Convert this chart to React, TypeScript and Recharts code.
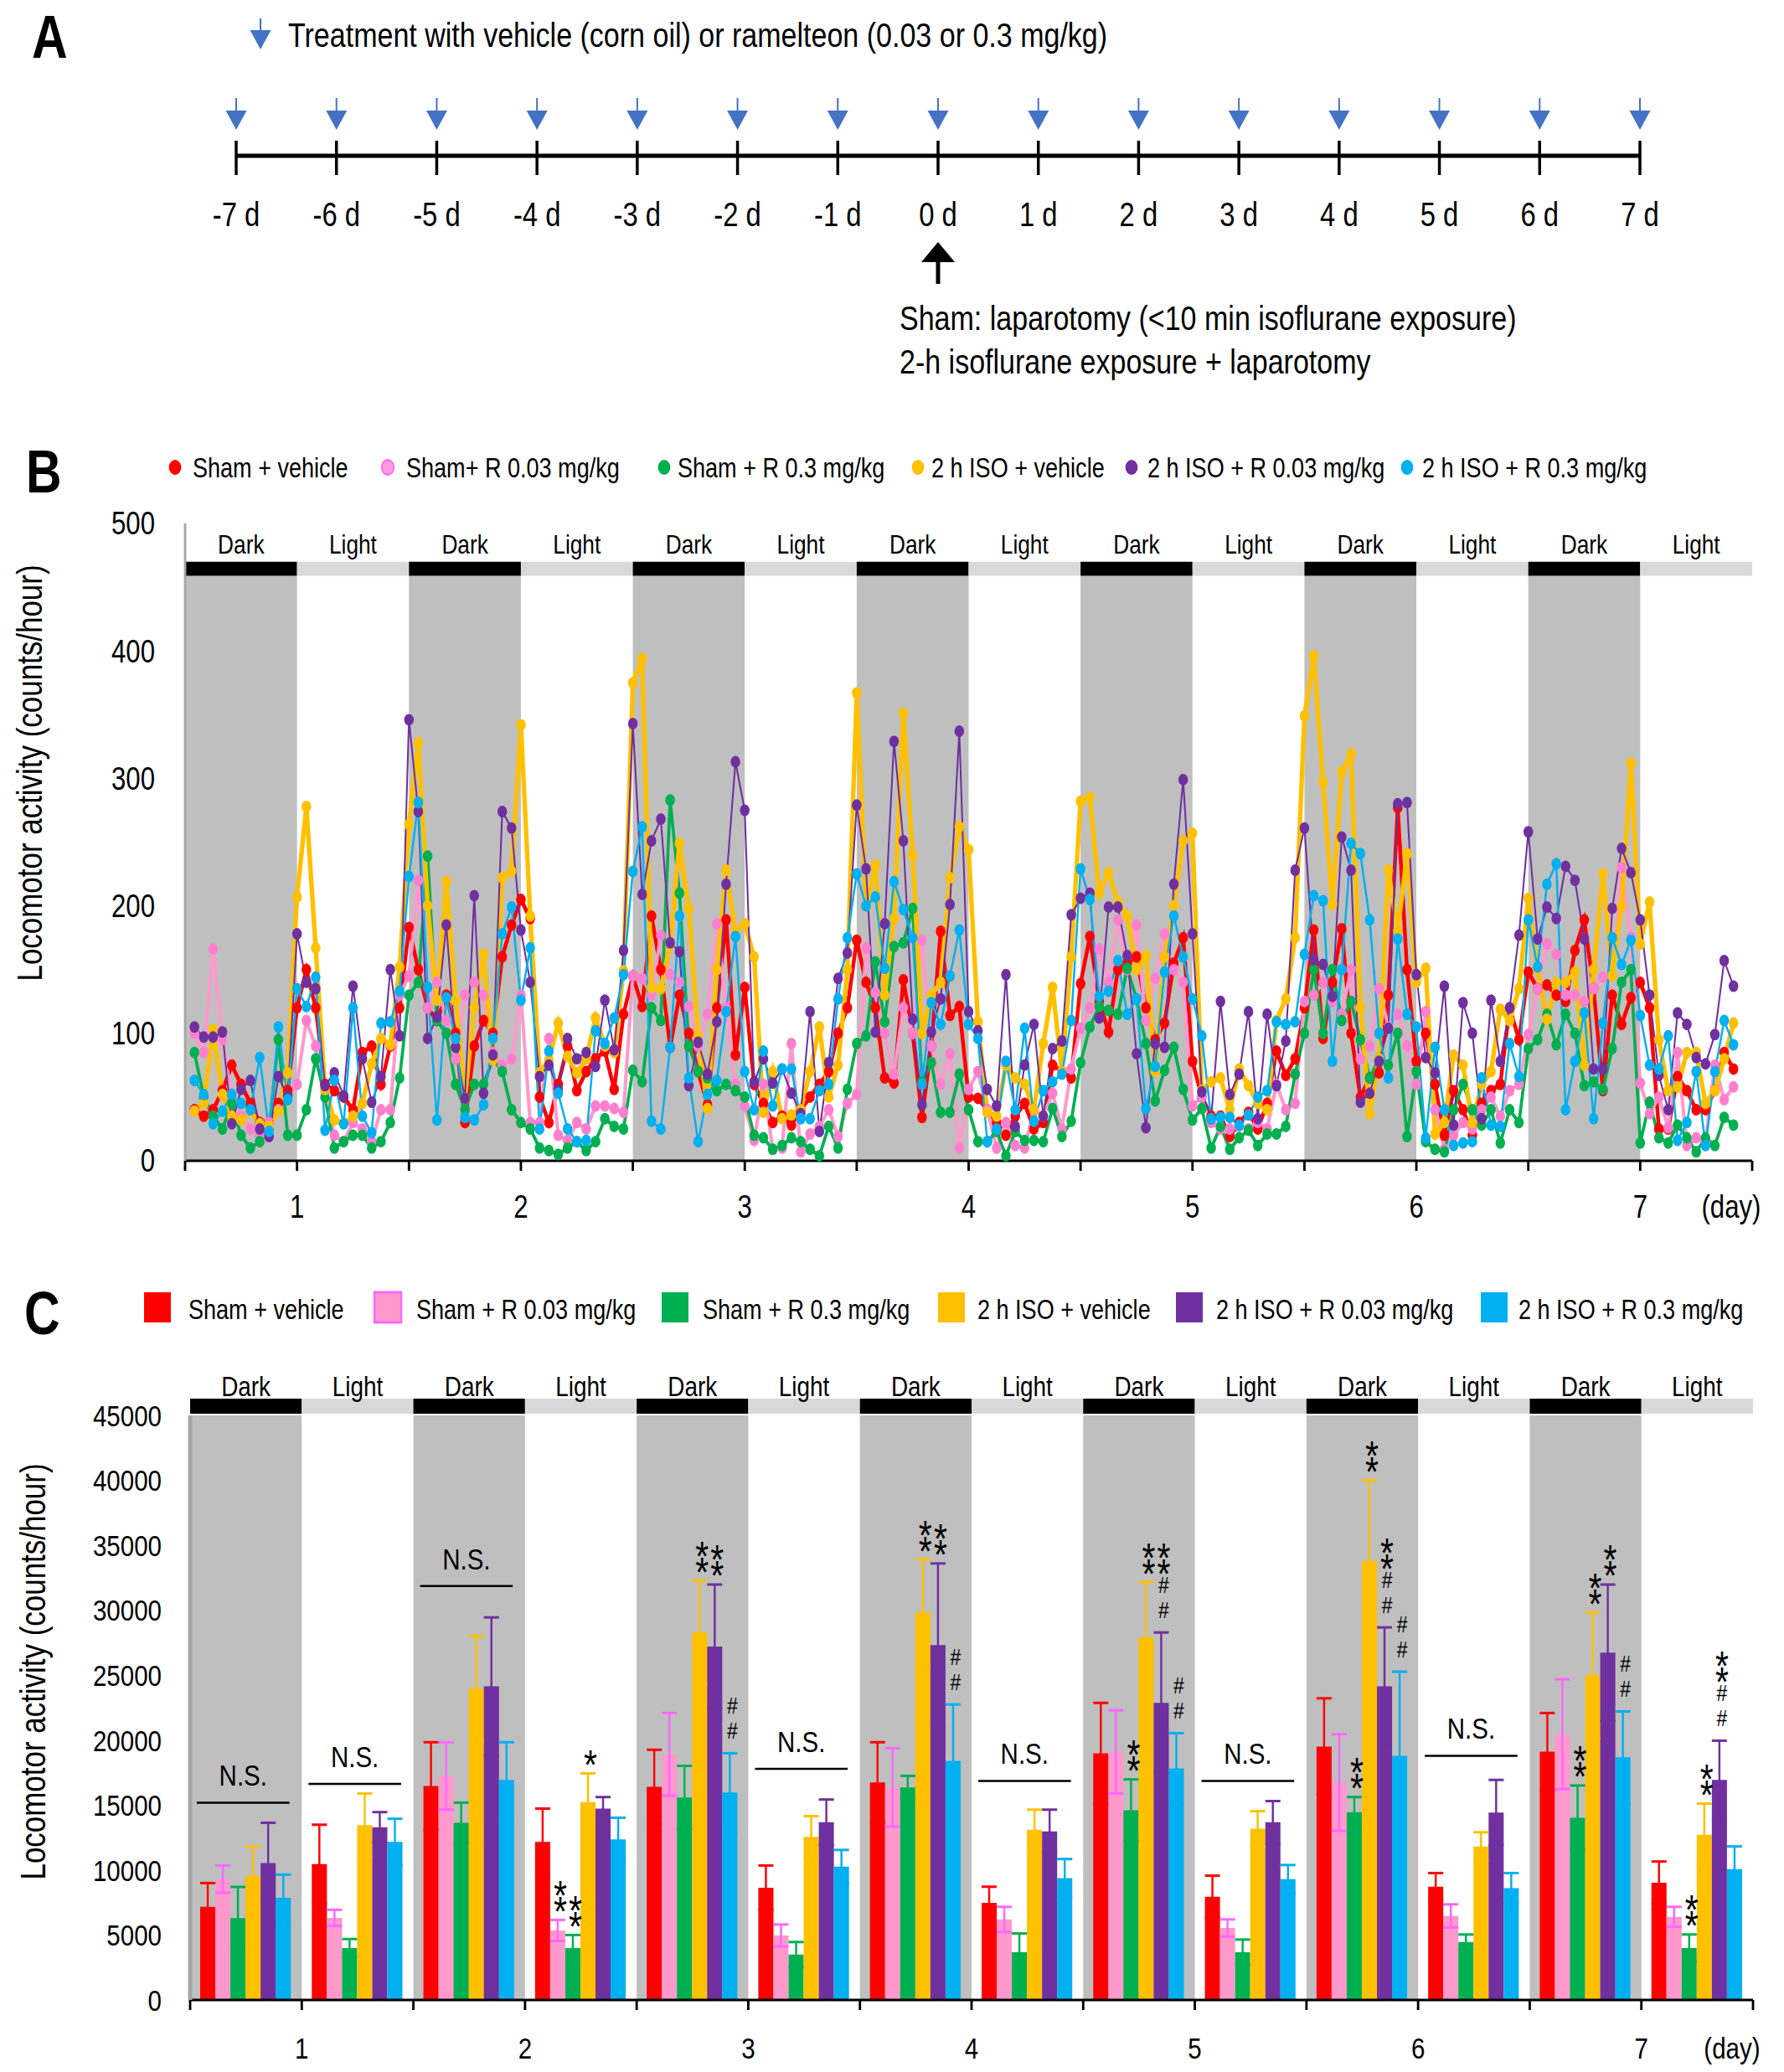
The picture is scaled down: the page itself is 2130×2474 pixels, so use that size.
import React from "react";
import {
  ComposedChart,
  Line,
  Bar,
  Scatter,
  XAxis,
  YAxis,
  ReferenceArea,
  ReferenceLine,
  ErrorBar,
  LabelList,
} from "recharts";

// the original figure is squeezed horizontally, so everything is laid out wide and scaled
const S = 0.82;
const PAGE_W = 2130;
const PAGE_H = 2474;
const IW = PAGE_W / S;
const sx = (v: number) => v / S;
const FONT = '"Liberation Sans", Arial, sans-serif';

// ---------- panel A ----------
const timelineDays = [-7, -6, -5, -4, -3, -2, -1, 0, 1, 2, 3, 4, 5, 6, 7];
const treatmentDays = [-7, -6, -5, -4, -3, -2, -1, 0, 1, 2, 3, 4, 5, 6, 7];
const surgeryDay = 0;
const treatmentNote = "Treatment with vehicle (corn oil) or ramelteon (0.03 or 0.3 mg/kg)";
const surgeryNotes = [
  "Sham: laparotomy (<10 min isoflurane exposure)",
  "2-h isoflurane exposure + laparotomy",
];

// ---------- panel B (hourly counts, hours 1..166) ----------
const periodNames = [
  "Dark", "Light", "Dark", "Light", "Dark", "Light", "Dark",
  "Light", "Dark", "Light", "Dark", "Light", "Dark", "Light",
];
const hoursPerPeriod = 12;
const bTicks = [0, 12, 24, 36, 48, 60, 72, 84, 96, 108, 120, 132, 144, 156, 168];
const bYTicks = [0, 100, 200, 300, 400, 500];

const shamVehicleHourly = [
  40, 35, 40, 55, 75, 60, 45, 30, 30, 45, 55, 120,
  150, 120, 60, 55, 50, 40, 85, 90, 60, 90, 120, 183,
  150, 120, 110, 130, 100, 30, 90, 110, 100, 160, 185, 205,
  190, 50, 30, 60, 90, 55, 70, 80, 86, 56, 115, 145,
  121, 192, 150, 89, 130, 100, 70, 44, 120, 189, 83, 136,
  60, 45, 30, 35, 28, 40, 50, 60, 70, 100, 120, 173,
  140, 120, 65, 61, 142, 100, 34, 90, 180, 114, 121, 50,
  49, 40, 30, 20, 35, 45, 25, 30, 75, 70, 65, 139,
  176, 125, 101, 150, 155, 160, 120, 95, 108, 155, 175, 78,
  50, 35, 35, 19, 30, 38, 25, 45, 86, 67, 80, 120,
  181, 96, 140, 182, 100, 50, 65, 69, 130, 277, 150, 78,
  100, 60, 20, 55, 40, 20, 45, 55, 60, 120, 95, 148,
  135, 138, 130, 125, 165, 189, 135, 55, 130, 107, 128, 140,
  120, 25, 25, 66, 55, 40, 40, 55, 85, 72,
];
const shamR003Hourly = [
  100, 85, 166, 95, 50, 35, 25, 20, 30, 40, 50, 60,
  110, 90, 55, 20, 15, 30, 25, 15, 40, 40, 130, 145,
  220, 120, 140, 110, 80, 130, 140, 130, 85, 75, 80, 130,
  30, 30, 96, 20, 16, 30, 25, 43, 43, 41, 38, 145,
  143, 130, 177, 146, 140, 121, 90, 115, 186, 120, 60, 43,
  16, 60, 9, 10, 92, 7, 21, 27, 40, 19, 45, 52,
  167, 132, 100, 68, 120, 100, 173, 90, 60, 84, 10, 56,
  70, 40, 10, 30, 12, 10, 40, 35, 53, 25, 72, 104,
  120, 166, 140, 189, 150, 185, 110, 143, 178, 150, 140, 43,
  50, 30, 25, 25, 27, 25, 30, 25, 60, 40, 45, 125,
  130, 140, 125, 115, 150, 80, 90, 135, 105, 115, 90, 60,
  117, 40, 9, 20, 30, 25, 40, 50, 35, 55, 60, 99,
  135, 170, 162, 130, 130, 125, 135, 144, 145, 230, 175, 61,
  37, 50, 26, 85, 12, 18, 15, 75, 48, 58,
];
const shamR03Hourly = [
  85, 50, 35, 25, 45, 20, 10, 15, 25, 95, 20, 20,
  40, 80, 50, 10, 15, 20, 20, 10, 15, 30, 65, 130,
  140, 239, 110, 100, 60, 40, 60, 60, 80, 70, 40, 30,
  25, 10, 8, 5, 10, 15, 8, 15, 33, 27, 25, 71,
  62, 120, 110, 283, 210, 90, 70, 65, 55, 60, 55, 50,
  20, 18, 9, 12, 18, 15, 9, 4, 27, 10, 56, 92,
  98, 156, 109, 168, 171, 198, 62, 77, 38, 38, 68, 40,
  15, 15, 23, 4, 23, 16, 16, 15, 41, 19, 31, 77,
  105, 121, 118, 115, 151, 127, 92, 47, 71, 89, 56, 32,
  41, 10, 27, 9, 18, 24, 12, 21, 21, 27, 68, 100,
  150, 100, 150, 110, 125, 95, 65, 80, 75, 100, 19, 70,
  15, 9, 7, 40, 60, 40, 28, 40, 14, 40, 30, 88,
  95, 115, 91, 115, 100, 59, 62, 56, 88, 140, 150, 14,
  46, 18, 14, 28, 18, 7, 18, 12, 34, 28,
];
const isoVehicleHourly = [
  39, 45, 103, 52, 35, 32, 39, 29, 27, 39, 69, 207,
  278, 167, 56, 32, 29, 35, 45, 76, 96, 91, 152, 264,
  328, 200, 126, 219, 126, 49, 120, 162, 79, 222, 227, 342,
  192, 69, 79, 108, 82, 69, 80, 112, 90, 85, 149, 375,
  394, 136, 135, 170, 249, 198, 98, 41, 150, 228, 180, 186,
  160, 38, 70, 33, 36, 40, 70, 105, 50, 75, 150, 367,
  200, 232, 130, 190, 351, 240, 100, 130, 140, 222, 262, 244,
  109, 38, 35, 75, 65, 60, 40, 92, 136, 70, 160, 282,
  285, 210, 226, 203, 192, 150, 161, 70, 160, 200, 251, 257,
  55, 62, 65, 40, 72, 59, 45, 40, 110, 127, 175, 349,
  396, 297, 201, 305, 319, 120, 37, 80, 228, 180, 241, 140,
  151, 21, 30, 83, 75, 30, 60, 70, 119, 110, 135, 206,
  150, 111, 140, 140, 148, 75, 150, 225, 145, 200, 312, 170,
  203, 95, 55, 58, 85, 85, 45, 55, 80, 108,
];
const isoR003Hourly = [
  105, 97, 97, 101, 29, 56, 63, 25, 19, 66, 51, 178,
  140, 135, 59, 69, 51, 137, 80, 46, 66, 150, 98, 346,
  274, 96, 113, 185, 89, 49, 208, 53, 83, 274, 261, 181,
  140, 66, 75, 56, 96, 80, 85, 74, 126, 87, 165, 343,
  209, 251, 268, 171, 164, 59, 93, 68, 109, 217, 313, 275,
  62, 80, 61, 72, 53, 37, 117, 23, 77, 143, 163, 279,
  229, 101, 186, 329, 251, 111, 44, 101, 127, 201, 337, 117,
  102, 56, 43, 146, 27, 75, 107, 35, 88, 94, 193, 206,
  210, 112, 199, 199, 161, 84, 26, 92, 89, 217, 299, 178,
  54, 33, 125, 52, 68, 117, 33, 115, 59, 94, 228, 261,
  158, 154, 129, 254, 228, 46, 53, 78, 104, 280, 281, 146,
  81, 69, 137, 28, 124, 100, 33, 126, 78, 120, 177, 258,
  174, 199, 190, 231, 220, 174, 72, 72, 198, 245, 226, 189,
  130, 67, 40, 116, 107, 81, 76, 99, 157, 137,
];
const isoR03Hourly = [
  63, 52, 29, 39, 52, 45, 40, 81, 23, 105, 48, 135,
  121, 144, 24, 63, 29, 120, 35, 22, 108, 109, 133, 223,
  281, 136, 32, 128, 96, 34, 32, 44, 96, 178, 199, 126,
  167, 25, 86, 53, 25, 15, 16, 102, 92, 112, 146, 227,
  262, 31, 25, 89, 192, 65, 15, 52, 63, 117, 176, 70,
  40, 86, 43, 72, 72, 33, 33, 55, 60, 127, 175, 225,
  200, 207, 151, 219, 197, 175, 60, 124, 107, 145, 181, 107,
  96, 15, 25, 78, 40, 104, 31, 55, 62, 68, 110, 229,
  205, 129, 133, 157, 115, 127, 41, 74, 148, 192, 160, 127,
  98, 33, 34, 34, 28, 36, 50, 55, 109, 107, 109, 162,
  208, 204, 78, 150, 249, 241, 189, 100, 65, 174, 115, 105,
  18, 89, 40, 12, 14, 15, 65, 28, 27, 92, 66, 189,
  152, 217, 233, 40, 78, 116, 33, 108, 175, 154, 173, 114,
  75, 72, 98, 16, 30, 70, 12, 70, 110, 91,
];

// ---------- panel C (counts per 12-h period, mean and SEM) ----------
const cYTicks = [0, 5000, 10000, 15000, 20000, 25000, 30000, 35000, 40000, 45000];
const cXTicks = [0, 1, 2, 3, 4, 5, 6, 7, 8, 9, 10, 11, 12, 13, 14];

const shamVehicleMean = [7170, 10460, 16470, 12170, 16400, 8640, 16740, 7480, 18990, 7950, 19500, 8720, 19110, 9030];
const shamVehicleErr = [1830, 3030, 3370, 2560, 2860, 1710, 3100, 1240, 3880, 1620, 3720, 1050, 2980, 1630];
const shamR003Mean = [9300, 6320, 17250, 5350, 18910, 4960, 16360, 6200, 19100, 5540, 16740, 6470, 20460, 6400];
const shamR003Err = [1050, 620, 2590, 810, 3180, 850, 3020, 970, 3200, 660, 3720, 890, 4230, 770];
const shamR03Mean = [6300, 3990, 13640, 3990, 15580, 3490, 16360, 3680, 14610, 3680, 14460, 4460, 14030, 3990];
const shamR03Err = [2400, 700, 1550, 1010, 2440, 970, 890, 1440, 2370, 970, 1160, 580, 2480, 1050];
const isoVehicleMean = [9570, 13450, 23990, 15230, 28290, 12560, 29840, 13100, 27910, 13180, 33800, 11820, 25000, 12710];
const isoVehicleErr = [2230, 2440, 4030, 2210, 4000, 1590, 4070, 1550, 4260, 1350, 6200, 1090, 4840, 2410];
const isoR003Mean = [10540, 13290, 24150, 14730, 27210, 13680, 27320, 12980, 22870, 13680, 24150, 14420, 26740, 16940];
const isoR003Err = [3100, 1170, 5300, 890, 4770, 1750, 6280, 1670, 5420, 1630, 4530, 2520, 5240, 3020];
const isoR03Mean = [7870, 12170, 16940, 12360, 15970, 10270, 18410, 9380, 17830, 9300, 18800, 8600, 18680, 10080];
const isoR03Err = [1780, 1780, 2900, 1670, 3020, 1280, 4340, 1470, 2710, 1090, 6470, 1170, 3530, 1740];

// significance marks, read top to bottom
const shamVehicleMarks = ["", "", "", "", "", "", "", "", "", "", "", "", "", ""];
const shamR003Marks = ["", "", "", "**", "", "", "", "", "", "", "", "", "", ""];
const shamR03Marks = ["", "", "", "**", "", "", "", "", "**", "", "**", "", "**", "**"];
const isoVehicleMarks = ["", "", "", "*", "**", "", "**", "", "**", "", "**", "", "**", "**"];
const isoR003Marks = ["", "", "", "", "**", "", "**", "", "**##", "", "**##", "", "**", "**##"];
const isoR03Marks = ["", "", "", "", "##", "", "##", "", "##", "", "##", "", "##", ""];

const nsGroups = [0, 1, 2, 5, 7, 9, 11];
const nsLevels = [15190, 16630, 31860, 17790, 16860, 16860, 18800];

// ---------- series styling ----------
const SERIES = [
  { key: "red", color: "#FF0000", dot: "#FF0000", err: "#FF0000", width: 5.5 },
  { key: "pink", color: "#FF99CC", dot: "#FF7FCF", err: "#FF66FF", width: 5 },
  { key: "green", color: "#00B050", dot: "#00B050", err: "#00B050", width: 4.5 },
  { key: "yellow", color: "#FFC000", dot: "#FFC000", err: "#FFC000", width: 6.5 },
  { key: "purple", color: "#7030A0", dot: "#7030A0", err: "#7030A0", width: 2.5 },
  { key: "cyan", color: "#00B0F0", dot: "#00B0F0", err: "#00B0F0", width: 3 },
];
const legendNamesB = ["Sham + vehicle", "Sham+ R 0.03 mg/kg", "Sham + R 0.3 mg/kg", "2 h ISO + vehicle", "2 h ISO + R 0.03 mg/kg", "2 h ISO + R 0.3 mg/kg"];
const legendNamesC = ["Sham + vehicle", "Sham + R 0.03 mg/kg", "Sham + R 0.3 mg/kg", "2 h ISO + vehicle", "2 h ISO + R 0.03 mg/kg", "2 h ISO + R 0.3 mg/kg"];
const legendBDotX = [209, 463, 793, 1096, 1351, 1680];
const legendBTextX = [230, 485, 809, 1112, 1370, 1698];
const legendCBoxX = [172, 447, 790, 1120, 1404, 1768];
const legendCTextX = [225, 497, 839, 1167, 1452, 1813];

const hourly: Record<string, number[]> = {
  red: shamVehicleHourly, pink: shamR003Hourly, green: shamR03Hourly,
  yellow: isoVehicleHourly, purple: isoR003Hourly, cyan: isoR03Hourly,
};
const means: Record<string, number[]> = {
  red: shamVehicleMean, pink: shamR003Mean, green: shamR03Mean,
  yellow: isoVehicleMean, purple: isoR003Mean, cyan: isoR03Mean,
};
const errs: Record<string, number[]> = {
  red: shamVehicleErr, pink: shamR003Err, green: shamR03Err,
  yellow: isoVehicleErr, purple: isoR003Err, cyan: isoR03Err,
};
const marks: Record<string, string[]> = {
  red: shamVehicleMarks, pink: shamR003Marks, green: shamR03Marks,
  yellow: isoVehicleMarks, purple: isoR003Marks, cyan: isoR03Marks,
};

const treatmentRows = treatmentDays.map((day) => ({ day, level: 1 }));

const bRows = shamVehicleHourly.map((_, i) => {
  const row: any = { h: i + 1 };
  SERIES.forEach((s) => (row[s.key] = hourly[s.key][i]));
  return row;
});

const cRows = periodNames.map((name, i) => {
  const row: any = { period: i, name };
  SERIES.forEach((s) => {
    row[s.key] = means[s.key][i];
    row[s.key + "Err"] = errs[s.key][i];
  });
  return row;
});

// ---------- small drawing helpers ----------
function TreatmentArrow(props: any) {
  const { cx, cy } = props;
  if (cx == null || cy == null) return null;
  const hw = sx(12.5);
  return (
    <g>
      <line x1={cx} x2={cx} y1={cy} y2={cy + 17} stroke="#4472C4" strokeWidth={sx(2)} />
      <polygon points={`${cx - hw},${cy + 15} ${cx + hw},${cy + 15} ${cx},${cy + 38}`} fill="#4472C4" />
    </g>
  );
}

function TimelineTick(props: any) {
  const { x, y, payload } = props;
  const d = payload.value;
  return (
    <g>
      <line x1={x} x2={x} y1={y - 18} y2={y + 23} stroke="#000" strokeWidth={sx(3.5)} />
      <text x={x} y={y + 84} textAnchor="middle" fontSize={40} fill="#000" fontFamily={FONT}>
        {`${d} d`}
      </text>
      {d === surgeryDay && (
        <g>
          <polygon points={`${x - sx(20)},${y + 127} ${x + sx(20)},${y + 127} ${x},${y + 103}`} fill="#000" />
          <line x1={x} x2={x} y1={y + 124} y2={y + 153} stroke="#000" strokeWidth={sx(5)} />
          {surgeryNotes.map((t, i) => (
            <text key={i} x={x - sx(46)} y={y + 208 + i * 52} fontSize={41.5} fill="#000" fontFamily={FONT}>
              {t}
            </text>
          ))}
        </g>
      )}
    </g>
  );
}

function DayTick(props: any) {
  const { x, y, payload, lastTick, perDay, offset, fontSize } = props;
  const v = payload.value;
  let label = "";
  if (v === lastTick) label = "(day)";
  else if ((v - offset) % perDay === 0) label = String((v - offset) / perDay + 1);
  if (!label) return null;
  const dx = v === lastTick ? -sx(25) : 0;
  return (
    <text x={x + dx} y={y} dy="0.71em" textAnchor="middle" fontSize={fontSize} fill="#000" fontFamily={FONT}>
      {label}
    </text>
  );
}

function makeMarks(key: string) {
  return (p: any) => {
    const vb = p.viewBox || p;
    const i = Number(p.value);
    const m = marks[key][i];
    if (!m || vb == null || !vb.height) return null;
    const perUnit = vb.height / means[key][i];
    let cur = vb.y - errs[key][i] * perUnit - 12;
    const cx = vb.x + vb.width / 2 + sx(3);
    const items: any[] = [];
    m.split("").reverse().forEach((c, k) => {
      const step = c === "#" ? 30 : 19;
      const center = cur - step / 2;
      cur -= step;
      items.push(
        c === "#" ? (
          <text key={k} x={cx} y={center + 10} fontSize={28} textAnchor="middle" fill="#000" fontFamily={FONT}>#</text>
        ) : (
          <text key={k} x={cx} y={center + 29} fontSize={50} textAnchor="middle" fill="#000" fontFamily={FONT}>*</text>
        )
      );
    });
    return <g>{items}</g>;
  };
}

// ---------- panels ----------
function PanelA() {
  return (
    <ComposedChart
      width={IW}
      height={480}
      data={treatmentRows}
      margin={{ top: 117, right: IW - sx(1958), bottom: 0, left: sx(282) }}
    >
      <XAxis
        dataKey="day"
        type="number"
        domain={[-7, 7]}
        ticks={timelineDays}
        interval={0}
        height={294}
        tickSize={0}
        tickMargin={0}
        tickLine={false}
        axisLine={{ stroke: "#000", strokeWidth: 5 }}
        tick={(p: any) => <TimelineTick {...p} />}
      />
      <YAxis dataKey="level" type="number" domain={[0, 1]} hide />
      <Scatter dataKey="level" shape={(p: any) => <TreatmentArrow {...p} />} isAnimationActive={false} />
    </ComposedChart>
  );
}

function PanelB() {
  return (
    <ComposedChart
      width={IW}
      height={1000}
      data={bRows}
      margin={{ top: 125, right: sx(38), bottom: 34, left: sx(221) - 120 }}
    >
      {periodNames.map((p, i) =>
        p === "Dark" ? (
          <ReferenceArea
            key={"shade" + i}
            x1={i * hoursPerPeriod}
            x2={(i + 1) * hoursPerPeriod}
            y1={0}
            y2={459}
            fill="#BFBFBF"
            fillOpacity={1}
            stroke="none"
          />
        ) : null
      )}
      {periodNames.map((p, i) => (
        <ReferenceArea
          key={"band" + i}
          x1={i * hoursPerPeriod}
          x2={(i + 1) * hoursPerPeriod}
          y1={459}
          y2={470}
          fill={p === "Dark" ? "#000" : "#D9D9D9"}
          fillOpacity={1}
          stroke="none"
          label={{ value: p, position: "top", offset: 10, fontSize: 32, fill: "#000" }}
        />
      ))}
      <XAxis
        dataKey="h"
        type="number"
        domain={[0, 168]}
        ticks={bTicks}
        interval={0}
        height={80}
        tickSize={12}
        tickMargin={29}
        axisLine={{ stroke: "#000", strokeWidth: 3 }}
        tickLine={{ stroke: "#000", strokeWidth: 3.5 }}
        tick={(p: any) => <DayTick {...p} lastTick={168} perDay={24} offset={12} fontSize={38} />}
      />
      <YAxis
        domain={[0, 500]}
        ticks={bYTicks}
        interval={0}
        width={120}
        tickSize={0}
        tickMargin={sx(36)}
        tickLine={false}
        axisLine={{ stroke: "#A6A6A6", strokeWidth: 3.5 }}
        tick={{ fontSize: 38, fill: "#000" }}
      />
      <YAxis
        yAxisId="inner"
        mirror
        domain={[0, 500]}
        ticks={bYTicks}
        interval={0}
        width={0}
        tickSize={sx(12)}
        axisLine={false}
        tickLine={{ stroke: "#A6A6A6", strokeWidth: 3 }}
        tick={() => null}
      />
      {SERIES.map((s) => (
        <Line
          key={s.key}
          type="linear"
          dataKey={s.key}
          stroke={s.color}
          strokeWidth={s.width}
          dot={{ r: 7, fill: s.dot, stroke: s.dot, strokeWidth: 0 }}
          activeDot={false}
          isAnimationActive={false}
        />
      ))}
    </ComposedChart>
  );
}

function PanelC() {
  return (
    <ComposedChart
      width={IW}
      height={854}
      data={cRows}
      barGap={0}
      barCategoryGap="9%"
      margin={{ top: 70, right: sx(37), bottom: 16, left: sx(227) - 120 }}
    >
      {periodNames.map((p, i) =>
        p === "Dark" ? (
          <ReferenceArea
            key={"shade" + i}
            xAxisId="num"
            x1={i}
            x2={i + 1}
            y1={0}
            y2={45000}
            fill="#BFBFBF"
            fillOpacity={1}
            stroke="none"
          />
        ) : null
      )}
      {periodNames.map((p, i) => (
        <ReferenceArea
          key={"band" + i}
          xAxisId="num"
          x1={i}
          x2={i + 1}
          y1={45130}
          y2={46290}
          ifOverflow="visible"
          fill={p === "Dark" ? "#000" : "#D9D9D9"}
          fillOpacity={1}
          stroke="none"
          label={{ value: p, position: "top", offset: 3, fontSize: 34, fill: "#000" }}
        />
      ))}
      <XAxis xAxisId="cat" dataKey="period" type="category" hide height={0} />
      <XAxis
        xAxisId="num"
        dataKey="period"
        type="number"
        domain={[0, 14]}
        allowDataOverflow
        ticks={cXTicks}
        interval={0}
        height={70}
        tickSize={12}
        tickMargin={32}
        axisLine={{ stroke: "#000", strokeWidth: 3 }}
        tickLine={{ stroke: "#000", strokeWidth: 3.5 }}
        tick={(p: any) => <DayTick {...p} lastTick={14} perDay={2} offset={1} fontSize={36} />}
      />
      <YAxis
        domain={[0, 45000]}
        ticks={cYTicks}
        interval={0}
        width={120}
        tickSize={0}
        tickMargin={sx(34)}
        tickLine={false}
        axisLine={{ stroke: "#A6A6A6", strokeWidth: 6 }}
        tick={{ fontSize: 36, fill: "#000" }}
      />
      <YAxis
        yAxisId="inner"
        mirror
        domain={[0, 45000]}
        ticks={cYTicks}
        interval={0}
        width={0}
        tickSize={sx(8)}
        axisLine={false}
        tickLine={{ stroke: "#A6A6A6", strokeWidth: 3 }}
        tick={() => null}
      />
      {SERIES.map((s) => (
        <Bar key={s.key} xAxisId="cat" dataKey={s.key} fill={s.color} isAnimationActive={false}>
          <ErrorBar dataKey={s.key + "Err"} width={sx(9)} stroke={s.err} strokeWidth={3} direction="y" />
          <LabelList dataKey={(row: any) => row.period} content={makeMarks(s.key)} />
        </Bar>
      ))}
      {nsGroups.map((g, k) => (
        <ReferenceLine
          key={"ns" + k}
          xAxisId="num"
          segment={[
            { x: g + 0.06, y: nsLevels[k] },
            { x: g + 0.89, y: nsLevels[k] },
          ]}
          stroke="#000"
          strokeWidth={2.5}
          ifOverflow="visible"
          label={{ value: "N.S.", position: "top", offset: 20, fontSize: 36, fill: "#000" }}
        />
      ))}
    </ComposedChart>
  );
}

function Overlay() {
  const yTitle = "Locomotor activity (counts/hour)";
  return (
    <svg
      width={IW}
      height={PAGE_H}
      style={{ position: "absolute", left: 0, top: 0, pointerEvents: "none", fontFamily: FONT }}
    >
      <text x={sx(38)} y={69} fontSize={72} fontWeight="bold">A</text>
      <text x={sx(31)} y={588} fontSize={72} fontWeight="bold">B</text>
      <text x={sx(29)} y={1593} fontSize={72} fontWeight="bold">C</text>

      <line x1={sx(311)} x2={sx(311)} y1={22} y2={38} stroke="#4472C4" strokeWidth={sx(2)} />
      <polygon points={`${sx(298.5)},36 ${sx(323.5)},36 ${sx(311)},59`} fill="#4472C4" />
      <text x={sx(344)} y={56} fontSize={41.5}>{treatmentNote}</text>

      {SERIES.map((s, i) => (
        <g key={"lb" + s.key}>
          <circle
            cx={sx(legendBDotX[i])}
            cy={558}
            r={9}
            fill={s.key === "pink" ? "#FF99DD" : s.color}
            stroke={s.key === "pink" ? "#FF66FF" : "none"}
            strokeWidth={2}
          />
          <text x={sx(legendBTextX[i])} y={570} fontSize={33}>{legendNamesB[i]}</text>
        </g>
      ))}

      {SERIES.map((s, i) => (
        <g key={"lc" + s.key}>
          <rect
            x={sx(legendCBoxX[i])}
            y={1543}
            width={sx(32)}
            height={36}
            fill={s.color}
            stroke={s.key === "pink" ? "#FF66FF" : "none"}
            strokeWidth={3}
          />
          <text x={sx(legendCTextX[i])} y={1575} fontSize={33}>{legendNamesC[i]}</text>
        </g>
      ))}

      <text
        transform={`translate(${sx(35)},923) rotate(-90) scale(0.672,1)`}
        textAnchor="middle"
        dominantBaseline="central"
        fontSize={52}
      >
        {yTitle}
      </text>
      <text
        transform={`translate(${sx(39)},1996) rotate(-90) scale(0.672,1)`}
        textAnchor="middle"
        dominantBaseline="central"
        fontSize={52}
      >
        {yTitle}
      </text>
    </svg>
  );
}

export default function App() {
  return (
    <div
      style={{
        position: "absolute",
        left: 0,
        top: 0,
        width: PAGE_W,
        height: PAGE_H,
        overflow: "hidden",
        background: "#fff",
      }}
    >
      <div
        style={{
          position: "absolute",
          left: 0,
          top: 0,
          width: IW,
          height: PAGE_H,
          transform: `scaleX(${S})`,
          transformOrigin: "0 0",
          fontFamily: FONT,
        }}
      >
        <div style={{ position: "absolute", left: 0, top: 0 }}>
          <PanelA />
        </div>
        <div style={{ position: "absolute", left: 0, top: 500 }}>
          <PanelB />
        </div>
        <div style={{ position: "absolute", left: 0, top: 1620 }}>
          <PanelC />
        </div>
        <Overlay />
      </div>
    </div>
  );
}
